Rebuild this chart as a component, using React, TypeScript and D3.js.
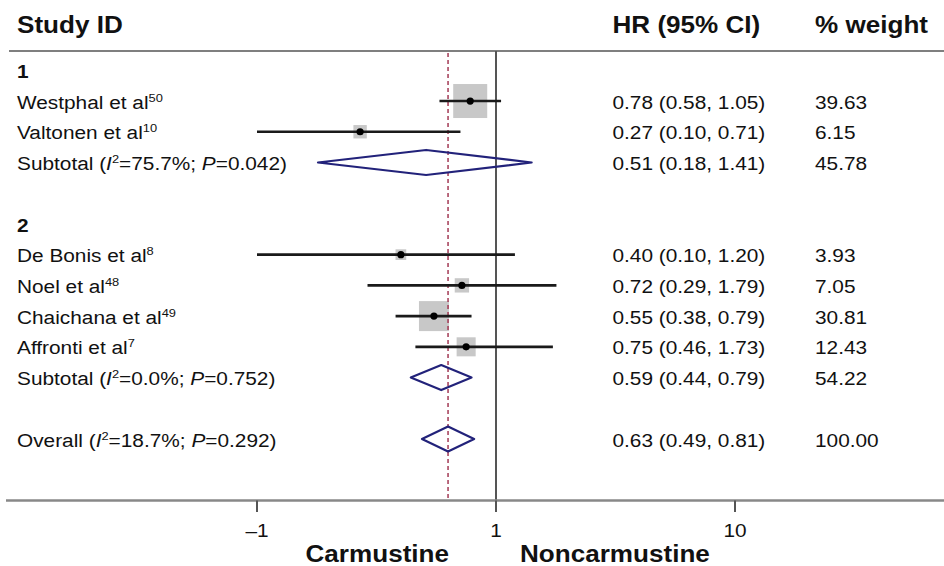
import React from "react";
import * as d3 from "d3";

const groupNames = ["1", "2"];
const studyNames = ["Westphal et al", "Valtonen et al", "De Bonis et al", "Noel et al", "Chaichana et al", "Affronti et al"];
const studyRefs = ["50", "10", "8", "48", "49", "7"];
const studyGroup = [0, 0, 1, 1, 1, 1];
const studyHR = [0.78, 0.27, 0.4, 0.72, 0.55, 0.75];
const studyLow = [0.58, 0.1, 0.1, 0.29, 0.38, 0.46];
const studyHigh = [1.05, 0.71, 1.2, 1.79, 0.79, 1.73];
const studyWeight = [39.63, 6.15, 3.93, 7.05, 30.81, 12.43];
const subtotalI2 = ["75.7", "0.0"];
const subtotalP = ["0.042", "0.752"];
const subtotalHR = [0.51, 0.59];
const subtotalLow = [0.18, 0.44];
const subtotalHigh = [1.41, 0.79];
const subtotalWeight = [45.78, 54.22];
const overallI2 = "18.7";
const overallP = "0.292";
const overallHR = 0.63;
const overallLow = 0.49;
const overallHigh = 0.81;
const overallWeight = 100;
const tickValues = [0.1, 1, 10];
const tickLabels = ["\u20131", "1", "10"];
const headers = ["Study ID", "HR (95% CI)", "% weight"];
const sideLabels = ["Carmustine", "Noncarmustine"];

type Row =
  | { kind: "group"; label: string }
  | { kind: "study"; i: number }
  | { kind: "subtotal"; g: number }
  | { kind: "blank" }
  | { kind: "overall" };

const rows: Row[] = [];
groupNames.forEach((g, gi) => {
  rows.push({ kind: "group", label: g });
  studyNames.forEach((_, i) => {
    if (studyGroup[i] === gi) rows.push({ kind: "study", i });
  });
  rows.push({ kind: "subtotal", g: gi });
  rows.push({ kind: "blank" });
});
rows.push({ kind: "overall" });

const W = 944;
const H = 566;
const FONT = "'Liberation Sans', Arial, Helvetica, sans-serif";
const FS = 18.6;
const FSB = 23.3;
const SX = 1.12;

const x = d3.scaleLog().domain([0.1, 10]).range([257, 735]);
const y = d3.scaleLinear().domain([0, rows.length - 1]).range([70.3, 439]);
const boxSize = d3.scaleSqrt().domain([0, 39.63]).range([0, 34]);

const fmt = (v: number) => v.toFixed(2);
const hrText = (h: number, l: number, u: number) => `${fmt(h)} (${fmt(l)}, ${fmt(u)})`;

function T({ x: tx, y: ty, anchor = "start", size = FS, bold = false, children }: any) {
  return (
    <text
      transform={`translate(${tx},${ty}) scale(${SX},1)`}
      textAnchor={anchor}
      fontSize={size}
      fontWeight={bold ? "bold" : "normal"}
      fontFamily={FONT}
      fill="#111"
    >
      {children}
    </text>
  );
}

const LX = 17;
const HRX = 612.5;
const WX = 815;
const BL = 7.6;

function statLabel(prefix: string, i2: string, p: string) {
  return (
    <>
      {prefix} (<tspan fontStyle="italic">I</tspan>
      <tspan fontSize={11.5} dy={-7}>2</tspan>
      <tspan dy={7}>={i2}%; </tspan>
      <tspan fontStyle="italic">P</tspan>={p})
    </>
  );
}

function Diamond({ h, l, u, cy }: { h: number; l: number; u: number; cy: number }) {
  const hh = 12.5;
  const pts = [
    [x(l), cy],
    [x(h), cy - hh],
    [x(u), cy],
    [x(h), cy + hh],
  ];
  return (
    <polygon
      points={pts.map((p) => p.join(",")).join(" ")}
      fill="none"
      stroke="#22227a"
      strokeWidth={2.2}
      strokeLinejoin="round"
    />
  );
}

export default function App() {
  const axisY = 500.5;
  return (
    <svg
      width={W}
      height={H}
      style={{ position: "absolute", left: 0, top: 0, background: "#fff" }}
    >
      <rect x={0} y={0} width={W} height={H} fill="#fff" />
      {/* headers */}
      <T x={LX} y={33} size={FSB} bold>{headers[0]}</T>
      <T x={HRX} y={33} size={FSB} bold>{headers[1]}</T>
      <T x={WX} y={33} size={FSB} bold>{headers[2]}</T>
      <line x1={9} x2={W} y1={51} y2={51} stroke="#555" strokeWidth={1.6} />

      {/* boxes */}
      {rows.map((r, ri) => {
        if (r.kind !== "study") return null;
        const s = boxSize(studyWeight[r.i]);
        return (
          <rect
            key={"b" + ri}
            x={x(studyHR[r.i]) - s / 2}
            y={y(ri) - s / 2}
            width={s}
            height={s}
            fill="#c8c8c8"
          />
        );
      })}

      {/* reference lines */}
      <line
        x1={x(overallHR)}
        x2={x(overallHR)}
        y1={53}
        y2={axisY}
        stroke="#a33a55"
        strokeWidth={1.5}
        strokeDasharray="4,3"
      />
      <line x1={x(1)} x2={x(1)} y1={51} y2={512} stroke="#555" strokeWidth={2} />

      {/* CI lines and points */}
      {rows.map((r, ri) => {
        if (r.kind !== "study") return null;
        return (
          <g key={"c" + ri}>
            <line
              x1={x(studyLow[r.i])}
              x2={x(studyHigh[r.i])}
              y1={y(ri)}
              y2={y(ri)}
              stroke="#1a1a1a"
              strokeWidth={2.6}
            />
            <circle cx={x(studyHR[r.i])} cy={y(ri)} r={3.6} fill="#000" />
          </g>
        );
      })}

      {/* diamonds */}
      {rows.map((r, ri) => {
        if (r.kind === "subtotal")
          return <Diamond key={"d" + ri} h={subtotalHR[r.g]} l={subtotalLow[r.g]} u={subtotalHigh[r.g]} cy={y(ri)} />;
        if (r.kind === "overall")
          return <Diamond key={"d" + ri} h={overallHR} l={overallLow} u={overallHigh} cy={y(ri)} />;
        return null;
      })}

      {/* text rows */}
      {rows.map((r, ri) => {
        const ty = y(ri) + BL;
        if (r.kind === "group")
          return (
            <T key={"t" + ri} x={LX} y={ty} bold>
              {r.label}
            </T>
          );
        if (r.kind === "study")
          return (
            <g key={"t" + ri}>
              <T x={LX} y={ty}>
                {studyNames[r.i]}
                <tspan fontSize={11.5} dy={-7}>{studyRefs[r.i]}</tspan>
              </T>
              <T x={HRX} y={ty}>{hrText(studyHR[r.i], studyLow[r.i], studyHigh[r.i])}</T>
              <T x={WX} y={ty}>{fmt(studyWeight[r.i])}</T>
            </g>
          );
        if (r.kind === "subtotal")
          return (
            <g key={"t" + ri}>
              <T x={LX} y={ty}>{statLabel("Subtotal", subtotalI2[r.g], subtotalP[r.g])}</T>
              <T x={HRX} y={ty}>{hrText(subtotalHR[r.g], subtotalLow[r.g], subtotalHigh[r.g])}</T>
              <T x={WX} y={ty}>{fmt(subtotalWeight[r.g])}</T>
            </g>
          );
        if (r.kind === "overall")
          return (
            <g key={"t" + ri}>
              <T x={LX} y={ty}>{statLabel("Overall", overallI2, overallP)}</T>
              <T x={HRX} y={ty}>{hrText(overallHR, overallLow, overallHigh)}</T>
              <T x={WX} y={ty}>{fmt(overallWeight)}</T>
            </g>
          );
        return null;
      })}

      {/* axis */}
      <line x1={6} x2={W} y1={axisY} y2={axisY} stroke="#888" strokeWidth={2.6} />
      {tickValues.map((v, i) => (
        <g key={"k" + i}>
          <line x1={x(v)} x2={x(v)} y1={axisY} y2={512} stroke="#555" strokeWidth={2} />
          <T x={x(v)} y={537} anchor="middle">{tickLabels[i]}</T>
        </g>
      ))}
      <T x={449} y={562} size={FSB} bold anchor="end">{sideLabels[0]}</T>
      <T x={520} y={562} size={FSB} bold>{sideLabels[1]}</T>
    </svg>
  );
}
